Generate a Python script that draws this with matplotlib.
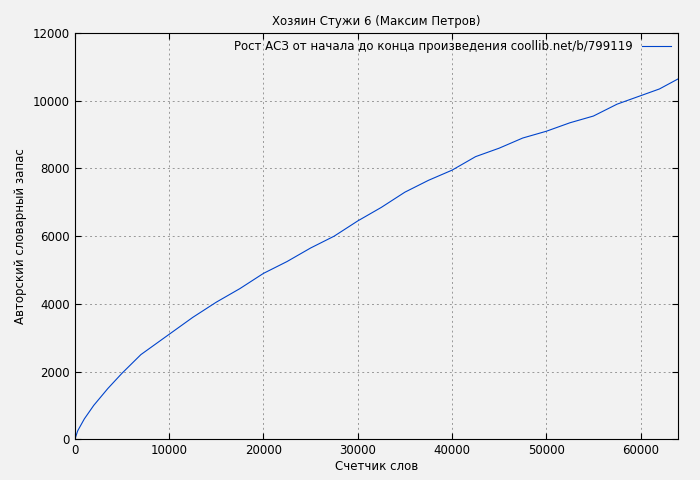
import matplotlib
matplotlib.use("Agg")
import matplotlib.pyplot as plt

words = [0, 300, 1000, 2000, 3500, 5000, 7000, 10000, 12500, 15000, 17500, 20000,
         22500, 25000, 27500, 30000, 32500, 35000, 37500, 40000, 42500, 45000,
         47500, 50000, 52500, 55000, 57500, 60000, 62000, 64000]
vocab = [0, 250, 600, 1000, 1500, 1950, 2500, 3100, 3600, 4050, 4450, 4900,
         5250, 5650, 6000, 6450, 6850, 7300, 7650, 7950, 8350, 8600,
         8900, 9100, 9350, 9550, 9900, 10150, 10350, 10650]

bg = "#f2f2f2"
fig = plt.figure(figsize=(7, 4.8), dpi=100, facecolor=bg)
ax = fig.add_axes([0.107, 0.085, 0.862, 0.846], facecolor=bg)
ax.plot(words, vocab, color="#0044cc", lw=0.8,
        label="Рост АСЗ от начала до конца произведения coollib.net/b/799119")
ax.set_xlim(0, 64000)
ax.set_ylim(0, 12000)
ax.set_xticks(range(0, 60001, 10000))
ax.set_yticks(range(0, 12001, 2000))
ax.grid(True, color="#999999", ls=(0, (2, 3)), lw=0.7)
ax.tick_params(labelsize=8.5, direction="in", length=4, top=True, right=True)
ax.set_title("Хозяин Стужи 6 (Максим Петров)", fontsize=8.5)
ax.set_xlabel("Счетчик слов", fontsize=8.5, labelpad=2)
ax.set_ylabel("Авторский словарный запас", fontsize=8.5)
ax.legend(loc="upper right", frameon=False, fontsize=8.5, markerfirst=False,
          handlelength=2.5, borderaxespad=0.2)
fig.savefig("out.png", dpi=100, facecolor=bg)
